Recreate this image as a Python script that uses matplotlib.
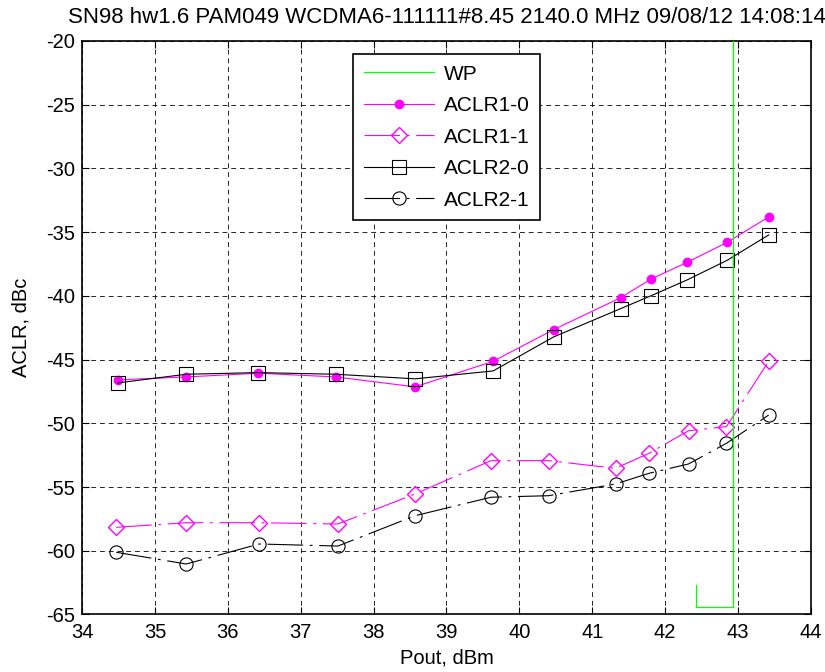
import numpy as np
import matplotlib
matplotlib.use("Agg")
import matplotlib.pyplot as plt

plt.rcParams['font.family'] = ['Liberation Sans', 'DejaVu Sans']
plt.rcParams['axes.unicode_minus'] = False

title = "SN98 hw1.6 PAM049 WCDMA6-111111#8.45 2140.0 MHz 09/08/12 14:08:14"

# working point marker
wp_x = [42.93, 42.93, 42.42, 42.42]
wp_y = [-19.0, -64.45, -64.45, -62.65]

# output power for the "-0" and "-1" sweeps
pout0 = [34.49, 35.43, 36.42, 37.48, 38.57, 39.64, 40.47, 41.39, 41.81, 42.30, 42.85, 43.42]
pout1 = [34.47, 35.43, 36.43, 37.51, 38.57, 39.61, 40.40, 41.32, 41.78, 42.32, 42.84, 43.42]

aclr1_0 = [-46.59, -46.36, -46.07, -46.36, -47.14, -45.13, -42.65, -40.14, -38.67, -37.37, -35.80, -33.81]
aclr1_1 = [-58.16, -57.80, -57.80, -57.90, -55.54, -52.93, -52.93, -53.53, -52.35, -50.58, -50.26, -45.13]
aclr2_0 = [-46.83, -46.15, -46.02, -46.15, -46.51, -45.89, -43.22, -41.00, -39.98, -38.75, -37.21, -35.22]
aclr2_1 = [-60.12, -61.04, -59.47, -59.63, -57.25, -55.80, -55.68, -54.76, -53.92, -53.19, -51.57, -49.35]

MAG = '#ff00ff'
FS = 14.5
dashdot = (32, 6, 2.5, 6)

fig = plt.figure(figsize=(8.25, 6.72), dpi=100)
ax = fig.add_axes([0.0994, 0.0856, 0.8836, 0.8534])

ax.plot(wp_x, wp_y, color='#00ff00', lw=0.9, label='WP', zorder=4)
ax.plot(pout0, aclr1_0, color=MAG, lw=0.8, marker='o', ms=6, mfc=MAG, mec=MAG, label='ACLR1-0')
ax.plot(pout1, aclr1_1, color=MAG, lw=0.8, marker='D', ms=8.5, mfc='none', mec=MAG,
        dashes=dashdot, label='ACLR1-1')
ax.plot(pout0, aclr2_0, color='black', lw=0.8, marker='s', ms=9.5, mfc='none', mec='black',
        mew=0.8, label='ACLR2-0')
ax.plot(pout1, aclr2_1, color='black', lw=0.8, marker='o', ms=9.5, mfc='none', mec='black',
        mew=0.8, dashes=dashdot, label='ACLR2-1')

ax.set_xlim(34, 44)
ax.set_ylim(-65, -20)
ax.set_xticks(np.arange(34, 45, 1))
ax.set_yticks(np.arange(-65, -19, 5))
ax.tick_params(direction='in', top=True, right=True, length=5, width=0.8, labelsize=FS)
ax.tick_params(axis='x', pad=6)
ax.tick_params(axis='y', pad=5)
ax.grid(True, color='black', linestyle=(0, (5, 4)), linewidth=0.7, alpha=0.85)
for s in ax.spines.values():
    s.set_linewidth(1.2)

ax.set_title(title, fontsize=16, pad=13)
ax.set_xlabel('Pout, dBm', fontsize=FS, labelpad=5)
ax.set_ylabel('ACLR, dBc', fontsize=FS, labelpad=11)

leg = ax.legend(loc='upper left', bbox_to_anchor=(0.372, 0.977), fontsize=15,
                fancybox=False, edgecolor='black', framealpha=1,
                handlelength=3.4, handletextpad=0.45, labelspacing=0.6,
                borderpad=0.5, borderaxespad=0)
leg.get_frame().set_linewidth(1.2)

fig.savefig('out.png', dpi=100)
